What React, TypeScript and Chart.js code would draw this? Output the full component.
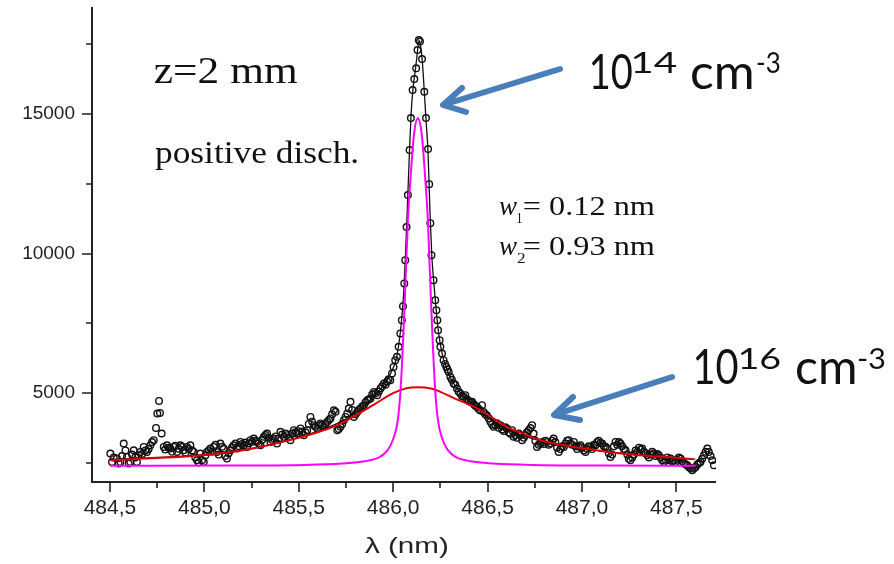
import React, { useEffect, useRef } from 'react';
import { Chart, registerables } from 'chart.js';

Chart.register(...registerables);

// Measured spectrum (open circles)
const OBS_LAMBDA = [
  484.502, 484.511, 484.520, 484.537, 484.546, 484.555, 484.564, 484.573, 484.582, 484.590,
  484.599, 484.608, 484.617, 484.626, 484.634, 484.643, 484.652, 484.661, 484.670, 484.679,
  484.688, 484.696, 484.705, 484.714, 484.723, 484.732, 484.744, 484.751, 484.760, 484.765,
  484.774, 484.785, 484.793, 484.802, 484.811, 484.820, 484.829, 484.838, 484.846, 484.855,
  484.864, 484.873, 484.882, 484.891, 484.900, 484.908, 484.917, 484.926, 484.935, 484.944,
  484.952, 484.961, 484.970, 484.979, 484.988, 484.997, 485.006, 485.014, 485.023, 485.032,
  485.041, 485.050, 485.059, 485.067, 485.076, 485.085, 485.094, 485.103, 485.111, 485.120,
  485.129, 485.138, 485.147, 485.156, 485.165, 485.173, 485.182, 485.191, 485.200, 485.209,
  485.218, 485.226, 485.235, 485.244, 485.253, 485.262, 485.271, 485.279, 485.288, 485.297,
  485.306, 485.315, 485.324, 485.332, 485.341, 485.350, 485.359, 485.368, 485.377, 485.385,
  485.394, 485.403, 485.412, 485.421, 485.430, 485.438, 485.447, 485.456, 485.465, 485.474,
  485.483, 485.491, 485.500, 485.509, 485.518, 485.527, 485.536, 485.545, 485.553, 485.562,
  485.571, 485.580, 485.589, 485.598, 485.607, 485.615, 485.624, 485.633, 485.642, 485.651,
  485.660, 485.668, 485.677, 485.686, 485.695, 485.704, 485.712, 485.721, 485.730, 485.739,
  485.748, 485.757, 485.765, 485.774, 485.783, 485.792, 485.801, 485.810, 485.818, 485.827,
  485.836, 485.845, 485.854, 485.863, 485.872, 485.880, 485.889, 485.898, 485.907, 485.916,
  485.924, 485.933, 485.942, 485.951, 485.960, 485.968, 485.976, 485.985, 485.994, 486.002,
  486.011, 486.020, 486.029, 486.038, 486.046, 486.052, 486.059, 486.064, 486.071, 486.078,
  486.087, 486.094, 486.103, 486.112, 486.122, 486.129, 486.136, 486.142, 486.153, 486.165,
  486.174, 486.185, 486.191, 486.197, 486.203, 486.214, 486.223, 486.229, 486.234, 486.238,
  486.246, 486.250, 486.259, 486.267, 486.275, 486.282, 486.288, 486.294, 486.303, 486.311,
  486.320, 486.329, 486.338, 486.347, 486.356, 486.364, 486.373, 486.382, 486.391, 486.400,
  486.409, 486.418, 486.427, 486.435, 486.444, 486.453, 486.462, 486.471, 486.479, 486.488,
  486.497, 486.506, 486.515, 486.524, 486.532, 486.541, 486.550, 486.559, 486.568, 486.577,
  486.586, 486.594, 486.603, 486.612, 486.621, 486.630, 486.638, 486.647, 486.656, 486.665,
  486.674, 486.683, 486.692, 486.700, 486.709, 486.718, 486.727, 486.736, 486.744, 486.753,
  486.762, 486.771, 486.780, 486.789, 486.798, 486.806, 486.815, 486.824, 486.833, 486.842,
  486.850, 486.859, 486.868, 486.877, 486.886, 486.895, 486.904, 486.913, 486.921, 486.930,
  486.939, 486.948, 486.957, 486.966, 486.974, 486.983, 486.992, 487.001, 487.010, 487.019,
  487.028, 487.036, 487.045, 487.054, 487.063, 487.072, 487.081, 487.089, 487.098, 487.107,
  487.116, 487.125, 487.134, 487.142, 487.151, 487.160, 487.169, 487.178, 487.187, 487.196,
  487.204, 487.213, 487.222, 487.231, 487.240, 487.248, 487.257, 487.266, 487.275, 487.284,
  487.293, 487.302, 487.311, 487.319, 487.328, 487.337, 487.346, 487.355, 487.364, 487.372,
  487.381, 487.390, 487.399, 487.407, 487.416, 487.425, 487.434, 487.443, 487.452, 487.460,
  487.469, 487.478, 487.487, 487.496, 487.504, 487.513, 487.522, 487.531, 487.540, 487.549,
  487.558, 487.567, 487.576, 487.584, 487.593, 487.602, 487.611, 487.620, 487.628, 487.637,
  487.646, 487.655, 487.664, 487.672, 487.681, 487.690, 487.699,
];
const OBS_COUNTS = [
  2839, 2538, 2700, 2658, 2480, 2538, 2750, 3197, 2950, 2717,
  2480, 2538, 2800, 2957, 2700, 2538, 2780, 2897, 2820, 3075,
  2950, 2897, 3000, 3136, 3250, 3316, 3757, 4272, 4725, 4294,
  3556, 3075, 2980, 3136, 3050, 3017, 2900, 3075, 3120, 2897,
  3010, 3136, 3080, 2957, 2870, 3075, 3000, 3136, 2950, 2897,
  2700, 2598, 2520, 2839, 2600, 2538, 2780, 2897, 2950, 3017,
  2900, 3075, 3150, 2897, 2800, 3197, 3080, 3017, 2750, 2658,
  2850, 2957, 3060, 3136, 3200, 3017, 3100, 3256, 3180, 3136,
  3230, 3075, 3200, 3316, 3260, 3376, 3300, 3256, 3200, 3136,
  3330, 3437, 3500, 3557, 3400, 3256, 3320, 3376, 3450, 3197,
  3380, 3616, 3520, 3437, 3560, 3497, 3420, 3316, 3560, 3676,
  3600, 3557, 3640, 3737, 3620, 3497, 3600, 3676, 3900, 4150,
  3980, 3856, 3800, 3737, 3850, 3916, 3860, 3797, 3900, 3976,
  4040, 4095, 4250, 4390, 4334, 3676, 3720, 3797, 3900, 4035,
  4150, 4274, 4450, 4690, 4400, 4150, 4250, 4330, 4400, 4450,
  4520, 4570, 4680, 4750, 4780, 4810, 4950, 5046, 5000, 4930,
  5060, 5170, 5250, 5350, 5300, 5420, 5500, 5467, 5707, 5943,
  6183, 6302, 6660, 7140, 7617, 8119, 8932, 9767, 10950, 12097,
  13710, 14857, 15860, 16254, 16640, 17294, 17652, 17600, 16970, 15800,
  14857, 13745, 12490, 11093, 9946, 9050, 8333, 7975, 7617, 7258,
  6900, 6660, 6423, 6183, 6050, 5943, 5850, 5764, 5585, 5480,
  5347, 5300, 5168, 5050, 4990, 4900, 4870, 4930, 4780, 4720,
  4690, 4690, 4600, 4550, 4510, 4430, 4380, 4570, 4330, 4250,
  4200, 4100, 3976, 3880, 3797, 3850, 3920, 3760, 3856, 3700,
  3650, 3780, 3737, 3600, 3550, 3676, 3437, 3500, 3400, 3560,
  3497, 3316, 3400, 3500, 3600, 3676, 3750, 3856, 3557, 3300,
  3075, 3150, 3197, 3250, 3180, 3300, 3256, 3150, 3200, 3300,
  3376, 3250, 3050, 2897, 3000, 3100, 3075, 3200, 3300, 3316,
  3200, 3150, 3256, 3100, 3000, 3080, 3136, 3050, 2950, 2897,
  3000, 3100, 3075, 3000, 3150, 3136, 3250, 3300, 3220, 3197,
  3100, 3080, 3017, 2850, 2717, 2800, 3100, 3256, 3150, 3250,
  3197, 3100, 3000, 2957, 2800, 2650, 2598, 2700, 2800, 2950,
  2897, 3050, 2980, 3017, 2900, 2850, 2778, 2700, 2800, 2900,
  2838, 2750, 2820, 2778, 2700, 2600, 2538, 2620, 2700, 2600,
  2658, 2560, 2600, 2538, 2620, 2700, 2658, 2560, 2500, 2450,
  2418, 2350, 2300, 2240, 2300, 2358, 2450, 2500, 2538, 2650,
  2778, 2900, 3017, 2897, 2750, 2598, 2418,
];

// Total fit (black line)
const FIT_LAMBDA = [
  484.50, 484.75, 485.00, 485.25, 485.50, 485.60, 485.70, 485.80, 485.90, 485.95,
  486.00, 486.02, 486.04, 486.055, 486.065, 486.075, 486.085, 486.095, 486.105, 486.115,
  486.125, 486.137, 486.145, 486.155, 486.165, 486.175, 486.185, 486.195, 486.205, 486.215,
  486.225, 486.24, 486.26, 486.28, 486.30, 486.33, 486.36, 486.40, 486.45, 486.50,
  486.55, 486.60, 486.70, 486.80, 486.90, 487.00, 487.20, 487.40, 487.60,
];
const FIT_COUNTS = [
  2620, 2700, 2800, 3020, 3420, 3640, 3900, 4280, 4880, 5300,
  5900, 6350, 7300, 8500, 9900, 11600, 13400, 15000, 15900, 16450,
  17000, 17650, 17450, 16850, 15800, 14700, 13600, 11500, 9900, 9000,
  8200, 7200, 6400, 5950, 5600, 5250, 4990, 4750, 4480, 4150,
  3900, 3700, 3450, 3250, 3130, 3020, 2850, 2720, 2640,
];

// Broad component, w2 = 0.93 nm (red)
const BROAD_LAMBDA = [
  484.50, 484.75, 485.00, 485.25, 485.50, 485.60, 485.70, 485.80, 485.90, 486.00,
  486.07, 486.13, 486.20, 486.25, 486.33, 486.43, 486.52, 486.60, 486.70, 486.78,
  486.87, 486.96, 487.05, 487.13, 487.22, 487.31, 487.40, 487.49, 487.59,
];
const BROAD_COUNTS = [
  2600, 2680, 2790, 3010, 3400, 3600, 3850, 4200, 4600, 5000,
  5180, 5215, 5170, 5050, 4800, 4510, 4150, 3800, 3520, 3316,
  3180, 3075, 2980, 2900, 2830, 2778, 2730, 2696, 2635,
];

// Narrow component, w1 = 0.12 nm (magenta)
const NARROW_LAMBDA = [
  484.50, 485.13, 485.53, 485.73, 485.85, 485.93, 485.97, 486.00, 486.025, 486.041,
  486.061, 486.078, 486.091, 486.111, 486.131, 486.151, 486.171, 486.184, 486.201, 486.221,
  486.237, 486.261, 486.291, 486.331, 486.411, 486.531, 486.731, 487.131, 487.60,
];
const NARROW_COUNTS = [
  2400, 2410, 2430, 2480, 2560, 2720, 2950, 3350, 4050, 5300,
  8200, 11200, 12600, 14300, 14846, 14300, 12600, 11200, 8200, 5300,
  4050, 3350, 2950, 2720, 2560, 2480, 2430, 2410, 2400,
];

const X_MIN = 484.405;
const X_MAX = 487.71;
const Y_MIN = 1819;
const Y_MAX = 18800;
const X_TICKS = [484.5, 484.75, 485.0, 485.25, 485.5, 485.75, 486.0, 486.25, 486.5, 486.75, 487.0, 487.25, 487.5];
const Y_TICKS = [2500, 5000, 7500, 10000, 12500, 15000, 17500];
const X_MAJOR = 0.5;
const Y_MAJOR = 5000;
const X_TITLE = 'λ (nm)';
const TITLE_Z = 'z=2 mm';
const TITLE_MODE = 'positive disch.';
const W1_TEXT = '= 0.12 nm';
const W2_TEXT = '= 0.93 nm';
const DENSITY_1 = ['10', '14', 'cm', '-3'];
const DENSITY_2 = ['10', '16', 'cm', '-3'];

const pts = (xs: number[], ys: number[]) => xs.map((x, i) => ({ x, y: ys[i] }));

const isMult = (v: number, m: number) => Math.abs(v / m - Math.round(v / m)) < 1e-6;

function inkText(
  ctx: CanvasRenderingContext2D,
  text: string,
  left: number,
  right: number | null,
  baseline: number,
  font: string,
  color = '#111'
) {
  ctx.save();
  ctx.font = font;
  ctx.fillStyle = color;
  ctx.textAlign = 'left';
  ctx.textBaseline = 'alphabetic';
  const m = ctx.measureText(text);
  const w = m.actualBoundingBoxLeft + m.actualBoundingBoxRight;
  const sx = right != null && w > 0 ? (right - left) / w : 1;
  ctx.translate(left + m.actualBoundingBoxLeft * sx, baseline);
  ctx.scale(sx, 1);
  ctx.fillText(text, 0, 0);
  ctx.restore();
}

function arrow(
  ctx: CanvasRenderingContext2D,
  from: [number, number],
  tip: [number, number],
  wingA: [number, number],
  wingB: [number, number]
) {
  ctx.save();
  ctx.strokeStyle = '#4A7EBB';
  ctx.lineWidth = 6;
  ctx.lineCap = 'round';
  ctx.lineJoin = 'round';
  ctx.beginPath();
  ctx.moveTo(from[0], from[1]);
  ctx.lineTo(tip[0] + 3, tip[1] - 1);
  ctx.stroke();
  ctx.beginPath();
  ctx.moveTo(wingA[0], wingA[1]);
  ctx.lineTo(tip[0], tip[1]);
  ctx.lineTo(wingB[0], wingB[1]);
  ctx.stroke();
  ctx.restore();
}

const decorPlugin = {
  id: 'decor',
  beforeDatasetsDraw(chart: any) {
    const { ctx, chartArea: a, scales } = chart;
    const x = scales.x;
    const y = scales.y;
    ctx.save();
    ctx.strokeStyle = '#222';
    ctx.lineWidth = 2;
    ctx.beginPath();
    ctx.moveTo(a.left, a.top - 1);
    ctx.lineTo(a.left, a.bottom);
    ctx.lineTo(a.right, a.bottom);
    ctx.stroke();
    ctx.lineWidth = 1.6;
    ctx.beginPath();
    x.ticks.forEach((t: any) => {
      const px = Math.round(x.getPixelForValue(t.value));
      const len = isMult(t.value, X_MAJOR) ? 10 : 6;
      ctx.moveTo(px, a.bottom);
      ctx.lineTo(px, a.bottom + len);
    });
    y.ticks.forEach((t: any) => {
      const py = Math.round(y.getPixelForValue(t.value));
      const len = isMult(t.value, Y_MAJOR) ? 10 : 6;
      ctx.moveTo(a.left, py);
      ctx.lineTo(a.left - len, py);
    });
    ctx.stroke();
    ctx.restore();
  },
  afterDraw(chart: any) {
    const { ctx } = chart;
    const serif = '"Liberation Serif", "DejaVu Serif", serif';
    const sans = 'Lato, "Open Sans", sans-serif';

    // axis title
    inkText(ctx, X_TITLE, 365, 447, 553, '22px "Liberation Sans", Arial, sans-serif', '#222');

    // plot annotations
    inkText(ctx, TITLE_Z, 155, 297, 83, `38px ${serif}`);
    inkText(ctx, TITLE_MODE, 155, 357, 163, `32px ${serif}`);

    inkText(ctx, 'w', 499, 517, 215, `italic 27px ${serif}`);
    inkText(ctx, '1', 517, 522, 223, `15px ${serif}`);
    inkText(ctx, W1_TEXT, 524, 655, 215, `27px ${serif}`);
    inkText(ctx, 'w', 499, 517, 255, `italic 27px ${serif}`);
    inkText(ctx, '2', 517, 525, 263, `15px ${serif}`);
    inkText(ctx, W2_TEXT, 524, 655, 255, `27px ${serif}`);

    // density labels
    inkText(ctx, DENSITY_1[0], 591, 632, 89, `48px ${sans}`);
    inkText(ctx, DENSITY_1[1], 633, 676, 73, `29px ${sans}`);
    inkText(ctx, DENSITY_1[2], 692, 752, 89, `48px ${sans}`);
    inkText(ctx, DENSITY_1[3], 757, 780, 73, `29px ${sans}`);

    inkText(ctx, DENSITY_2[0], 695, 738, 384, `48px ${sans}`);
    inkText(ctx, DENSITY_2[1], 740, 780, 369, `29px ${sans}`);
    inkText(ctx, DENSITY_2[2], 797, 855, 384, `48px ${sans}`);
    inkText(ctx, DENSITY_2[3], 858, 885, 369, `29px ${sans}`);

    arrow(ctx, [560, 69], [443, 105], [462, 88], [466, 112]);
    arrow(ctx, [672, 377], [554, 415], [573, 397], [580, 420]);
  },
};

export default function App() {
  const ref = useRef<HTMLCanvasElement | null>(null);

  useEffect(() => {
    document.body.style.margin = '0';
    const canvas = ref.current;
    if (!canvas) return;
    const chart = new Chart(canvas, {
      type: 'scatter',
      data: {
        datasets: [
          {
            label: 'narrow',
            data: pts(NARROW_LAMBDA, NARROW_COUNTS),
            showLine: true,
            borderColor: '#FF00FF',
            borderWidth: 2,
            pointRadius: 0,
            cubicInterpolationMode: 'monotone',
            order: 1,
          },
          {
            label: 'broad',
            data: pts(BROAD_LAMBDA, BROAD_COUNTS),
            showLine: true,
            borderColor: '#E00000',
            borderWidth: 2,
            pointRadius: 0,
            cubicInterpolationMode: 'monotone',
            order: 2,
          },
          {
            label: 'fit',
            data: pts(FIT_LAMBDA, FIT_COUNTS),
            showLine: true,
            borderColor: '#111',
            borderWidth: 1.3,
            pointRadius: 0,
            cubicInterpolationMode: 'monotone',
            order: 3,
          },
          {
            label: 'data',
            data: pts(OBS_LAMBDA, OBS_COUNTS),
            showLine: false,
            borderColor: '#111',
            backgroundColor: 'rgba(255,255,255,0)',
            borderWidth: 1.4,
            pointRadius: 3.3,
            order: 4,
          },
        ],
      },
      options: {
        animation: false,
        responsive: false,
        events: [],
        layout: { padding: { left: 0, top: 8, right: 178, bottom: 0 } },
        plugins: { legend: { display: false }, tooltip: { enabled: false } },
        scales: {
          x: {
            type: 'linear',
            min: X_MIN,
            max: X_MAX,
            grid: { display: false, drawTicks: false },
            border: { display: false },
            afterBuildTicks: (s: any) => {
              s.ticks = X_TICKS.map((v) => ({ value: v }));
            },
            ticks: {
              autoSkip: false,
              maxRotation: 0,
              padding: 14,
              color: '#222',
              font: { family: '"Liberation Sans", Arial, sans-serif', size: 21 },
              callback: (v: any) => (isMult(Number(v), X_MAJOR) ? Number(v).toFixed(1).replace('.', ',') : ''),
            },
            afterFit: (s: any) => {
              s.height = 82;
              s.paddingLeft = 0;
              s.paddingRight = 0;
            },
          },
          y: {
            type: 'linear',
            min: Y_MIN,
            max: Y_MAX,
            grid: { display: false, drawTicks: false },
            border: { display: false },
            afterBuildTicks: (s: any) => {
              s.ticks = Y_TICKS.map((v) => ({ value: v }));
            },
            ticks: {
              autoSkip: false,
              padding: 17,
              color: '#222',
              font: { family: '"Liberation Sans", Arial, sans-serif', size: 19 },
              callback: (v: any) => (isMult(Number(v), Y_MAJOR) ? String(v) : ''),
            },
            afterFit: (s: any) => {
              s.width = 92;
              s.paddingTop = 0;
              s.paddingBottom = 0;
            },
          },
        },
      },
      plugins: [decorPlugin],
    } as any);
    return () => chart.destroy();
  }, []);

  return (
    <div style={{ position: 'absolute', left: 0, top: 0, width: 894, height: 564, background: '#fff' }}>
      <canvas ref={ref} width={894} height={564} style={{ display: 'block' }} />
    </div>
  );
}
